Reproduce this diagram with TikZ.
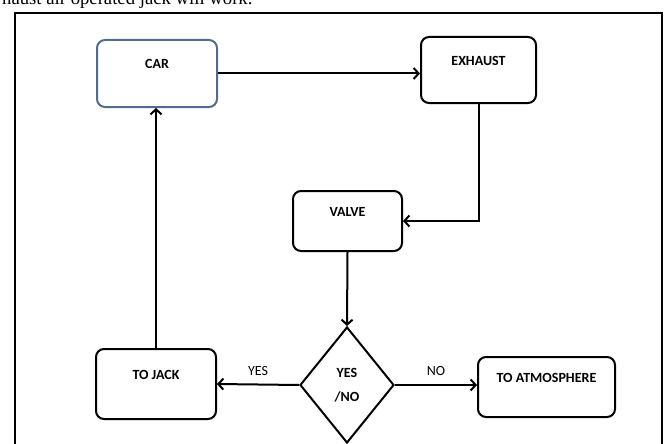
\documentclass[tikz,border=0pt]{standalone}
\usepackage{fontspec}
\setmainfont{Carlito}
\newfontfamily\bodyserif{Liberation Serif}
\usepackage{tikz}
\definecolor{carblue}{RGB}{79, 110, 143}
\usetikzlibrary{shapes.geometric, arrows.meta, positioning, calc}

\begin{document}
\begin{tikzpicture}[
    x=1pt, y=-1pt,
    box/.style={rectangle, draw, line width=2pt, rounded corners=8pt, inner sep=0pt, text depth=19pt, align=center, font=\fontsize{14}{16}\selectfont\bfseries},
    decision/.style={diamond, draw, line width=2pt, inner sep=0pt, minimum width=94pt, minimum height=116pt, aspect=0.81, align=center, font=\fontsize{14}{24}\selectfont\bfseries},
    flow/.style={line width=2pt, -{Straight Barb[length=5pt, width=11pt]}},
    tag/.style={font=\fontsize{14}{16}\selectfont},
]
    \useasboundingbox (0,0) rectangle (667,444);
    \clip (0,0) rectangle (667,444);

    % Page text and frame
    \node[font=\bodyserif\fontsize{18.7}{22}\selectfont, anchor=base west, inner sep=0pt] (caption) at (2, 5) {haust air operated jack will work.};
    \draw[line width=2.2pt] (15,13) rectangle (662,470);

    % Boxes
    \node[box, draw=carblue, minimum width=120pt, minimum height=67pt] (car) at (157, 73.5) {CAR};
    \node[box, minimum width=115pt, minimum height=66pt] (exhaust) at (478.5, 70) {EXHAUST};
    \node[box, minimum width=109pt, minimum height=60pt] (valve) at (347.5, 221) {VALVE};
    \node[box, minimum width=120pt, minimum height=70pt] (jack) at (156, 384) {TO JACK};
    \node[box, minimum width=137pt, minimum height=60pt] (atmos) at (546.5, 387) {TO ATMOSPHERE};

    % Decision
    \node[decision] (check) at (347, 385) {YES\\/NO};

    % Flow
    \draw[flow] (car.east) -- (car.east -| exhaust.west);
    \draw[flow] (exhaust.south) |- (valve.east);
    \draw[flow] (valve.south) -- (check.north);
    \draw[flow] (check.west) -- node[tag, above=5pt] {YES} (jack.east);
    \draw[flow] (check.east) -- node[tag, above=5pt] {NO} (check.east -| atmos.west);
    \draw[flow] (jack.north) -- (jack.north |- car.south);

\end{tikzpicture}
\end{document}
